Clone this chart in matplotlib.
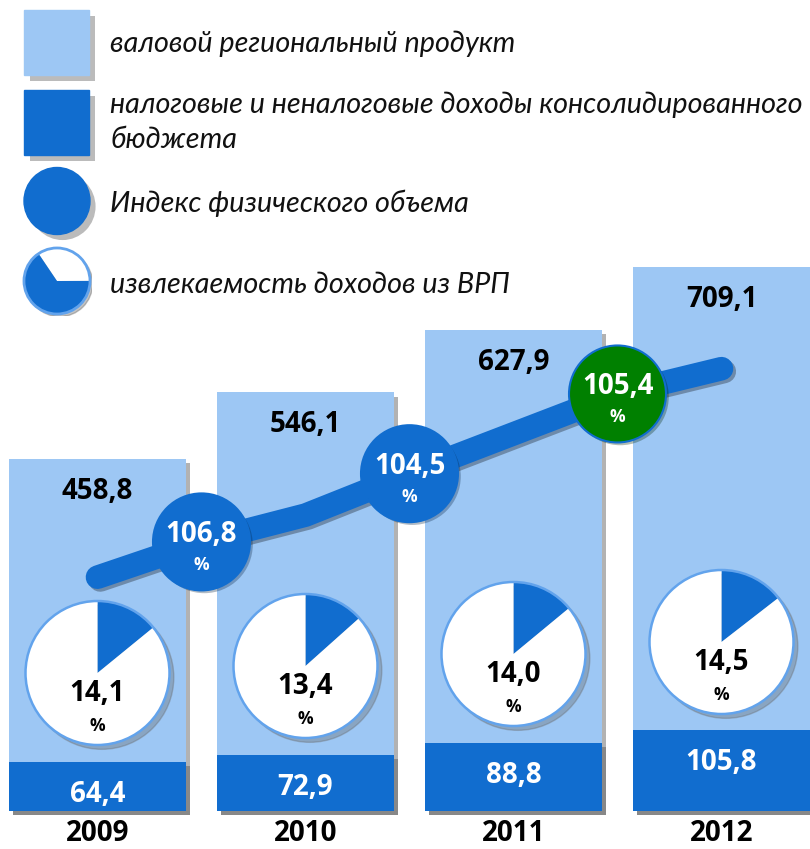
import matplotlib
matplotlib.use('Agg')
import matplotlib.pyplot as plt
import matplotlib.patheffects as pe
from matplotlib.patches import Rectangle, Ellipse, Circle

plt.rcParams['font.family'] = ['Lato', 'Open Sans', 'DejaVu Sans']
NUM_FONT = ['Open Sans', 'DejaVu Sans']

# data
years = ['2009', '2010', '2011', '2012']
grp = [458.8, 546.1, 627.9, 709.1]              # валовой региональный продукт
budget_income = [64.4, 72.9, 88.8, 105.8]       # налоговые и неналоговые доходы
volume_index = [106.8, 104.5, 105.4]            # индекс физического объема
extraction = [14.1, 13.4, 14.0, 14.5]           # извлекаемость доходов из ВРП, %
index_colors = ['#116dcf', '#116dcf', '#008000']

# trend ribbon levels (value units), at bar centres and gaps
trend_x = [0, 0.5, 1, 1.5, 2, 2.5, 3]
trend_y = [305, 351, 386, 440, 492, 544, 577]

legend_labels = ['валовой региональный продукт',
                 'налоговые и неналоговые доходы консолидированного\nбюджета',
                 'Индекс физического объема',
                 'извлекаемость доходов из ВРП']

LIGHT = '#9dc7f4'
DARK = '#116dcf'
EDGE = '#62a3ec'

# layout: pixels per unit on each axis
W, H = 810, 849
PX_X = 208.0
PX_Y = 0.7666
BASE_PX = 811


def fmt(v):
    return f'{v:.1f}'.replace('.', ',')


fig = plt.figure(figsize=(W / 100, H / 100), dpi=100)
ax = fig.add_axes([0, 0, 1, 1])
ax.set_xlim(-97.5 / PX_X, (W - 97.5) / PX_X)
ax.set_ylim(-(H - BASE_PX) / PX_Y, BASE_PX / PX_Y)
ax.axis('off')

num_kw = dict(ha='center', va='baseline', fontweight='bold', family=NUM_FONT)

shadow = [pe.SimplePatchShadow(offset=(3, -3), shadow_rgbFace='#555555', alpha=0.45), pe.Normal()]
x = list(range(len(years)))
bw = 177 / PX_X
ax.bar(x, grp, width=bw, color=LIGHT, zorder=1, path_effects=shadow)
ax.bar(x, budget_income, width=bw, color=DARK, zorder=2, path_effects=shadow)

lab_off = 40 / PX_Y
for i in x:
    ax.text(i, grp[i] - lab_off, fmt(grp[i]), fontsize=20, color='black', zorder=6, **num_kw)
    ax.text(i, budget_income[i] - lab_off, fmt(budget_income[i]), fontsize=20, color='white',
            zorder=6, **num_kw)
    ax.text(i, -(841 - BASE_PX) / PX_Y, years[i], fontsize=20, color='black', zorder=6, **num_kw)

# trend ribbon
ax.plot(trend_x, trend_y, color=DARK, lw=17, solid_capstyle='round', solid_joinstyle='round', zorder=3,
        path_effects=[pe.SimpleLineShadow(offset=(2, -2), alpha=0.3), pe.Normal()])

# index circles in the gaps
r = 48.5
for k, val in enumerate(volume_index):
    cx = trend_x[2 * k + 1]
    cy = trend_y[2 * k + 1]
    ax.add_patch(Ellipse((cx, cy), 2 * r / PX_X, 2 * r / PX_Y, facecolor=index_colors[k],
                         edgecolor=DARK, lw=1.5, zorder=4,
                         path_effects=[pe.SimplePatchShadow(offset=(2, -2), alpha=0.3), pe.Normal()]))
    ax.text(cx, cy, fmt(val), fontsize=20, color='white', zorder=5, **num_kw)
    ax.text(cx, cy - 28 / PX_Y, '%', fontsize=12.5, color='white', zorder=5, **num_kw)

# pies for extraction share
pie_px = [673, 666, 654, 642]
pr = 72
pad = 1.1
for i in x:
    cy = (BASE_PX - pie_px[i]) / PX_Y
    hw = pr * pad / PX_X
    hh = pr * pad / PX_Y
    iax = ax.inset_axes([i - hw, cy - hh, 2 * hw, 2 * hh], transform=ax.transData)
    iax.add_patch(Circle((0.06, -0.06), 1.0, color='#666666', alpha=0.35, zorder=0))
    iax.pie([extraction[i], 100 - extraction[i]], colors=[DARK, 'white'], startangle=90,
            counterclock=False, wedgeprops=dict(edgecolor='none'))
    iax.add_patch(Circle((0, 0), 1.0, fill=False, edgecolor=EDGE, lw=1.8, zorder=3))
    iax.text(0, -28 / pr, fmt(extraction[i]), fontsize=20, color='black', zorder=4, **num_kw)
    iax.text(0, -58 / pr, '%', fontsize=12.5, color='black', zorder=4, **num_kw)
    iax.set_xlim(-pad, pad)
    iax.set_ylim(-pad, pad)
    iax.set_aspect('auto')

# legend, drawn in pixel space
lax = fig.add_axes([0, 0, 1, 1], zorder=10)
lax.set_xlim(0, W)
lax.set_ylim(H, 0)
lax.axis('off')
lax.patch.set_alpha(0)
lshadow = [pe.SimplePatchShadow(offset=(4, -4), shadow_rgbFace='#555555', alpha=0.4), pe.Normal()]
lax.add_patch(Rectangle((24, 10), 65, 65, color=LIGHT, path_effects=lshadow))
lax.add_patch(Rectangle((24, 90), 65, 65, color=DARK, path_effects=lshadow))
lax.add_patch(Ellipse((57, 201), 66, 67, color=DARK, path_effects=lshadow))

pax = fig.add_axes([22 / W, (H - 316) / H, 70 / W, 70 / H], zorder=10)
pax.add_patch(Circle((0.08, -0.08), 1.0, color='#555555', alpha=0.35, zorder=0))
pax.pie([34.4, 65.6], colors=['white', DARK], startangle=124, counterclock=False,
        wedgeprops=dict(edgecolor='none'))
pax.add_patch(Circle((0, 0), 1.0, fill=False, edgecolor=EDGE, lw=2, zorder=3))
pax.set_xlim(-1.06, 1.06)
pax.set_ylim(-1.06, 1.06)

text_kw = dict(fontsize=20.7, fontstyle='italic', color='#111111', va='baseline', ha='left')
lax.text(110, 52, legend_labels[0], **text_kw)
lax.text(110, 113, legend_labels[1].split('\n')[0], **text_kw)
lax.text(110, 148, legend_labels[1].split('\n')[1], **text_kw)
lax.text(110, 212, legend_labels[2], **text_kw)
lax.text(110, 293, legend_labels[3], **text_kw)

fig.savefig('out.png', dpi=100)
